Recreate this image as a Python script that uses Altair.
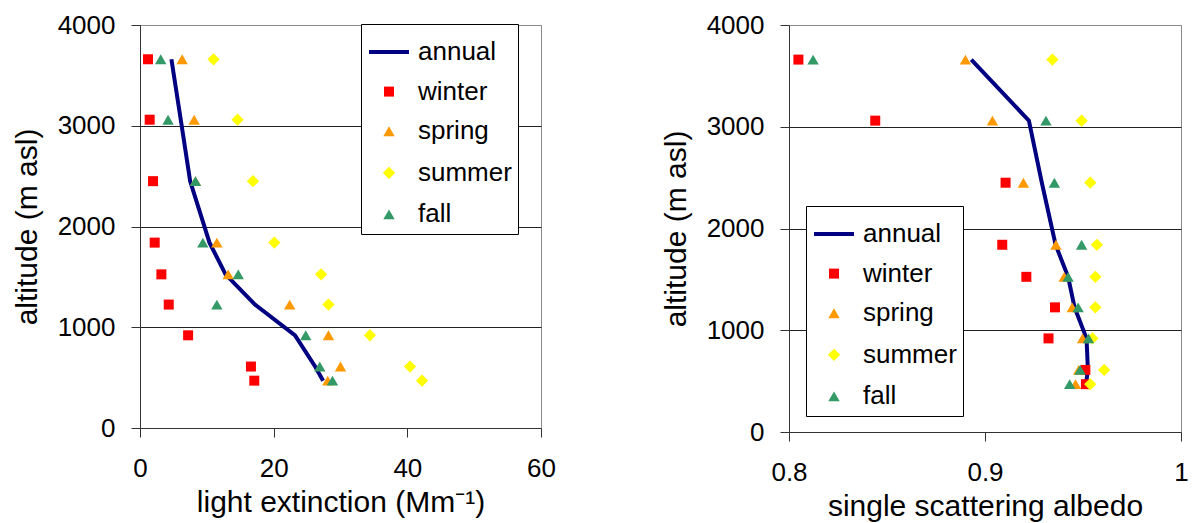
import altair as alt
import pandas as pd

FONT = "Liberation Sans"

altitude = [3660, 3060, 2450, 1840, 1525, 1225, 920, 610, 470]

series_order = ["annual", "winter", "spring", "summer", "fall"]
series_colors = ["#000080", "#FF0000", "#FF9900", "#FFFF00", "#339966"]
series_strokes = ["#000080", "transparent", "transparent", "transparent", "transparent"]
series_shapes = ["stroke", "square", "triangle-up", "diamond", "triangle-up"]
series_sizes = [1600, 100, 130, 150, 130]

# light extinction (Mm-1)
ext_annual = [4.7, 6.1, 7.5, 10.4, 12.8, 17.2, 23.2, 26.2, 27.4]
ext_winter = [1.2, 1.45, 1.95, 2.2, 3.2, 4.3, 7.2, 16.6, 17.1]
ext_spring = [6.3, 8.1, 8.3, 11.5, 13.2, 22.4, 28.2, 30.0, 28.1]
ext_summer = [11.0, 14.6, 16.9, 20.1, 27.1, 28.2, 34.4, 40.4, 42.2]
ext_fall = [3.1, 4.2, 8.3, 9.4, 14.7, 11.5, 24.8, 26.9, 28.8]

# single scattering albedo
ssa_annual = [0.893, 0.9224, 0.929, 0.936, 0.9424, 0.9457, 0.9518, 0.9525, 0.9515]
ssa_winter = [0.8048, 0.8440, 0.9105, 0.9088, 0.9211, 0.9357, 0.9324, 0.9512, 0.9515]
ssa_spring = [0.890, 0.9038, 0.9196, 0.9362, 0.9404, 0.9445, 0.9498, 0.9478, 0.9462]
ssa_summer = [0.9344, 0.9493, 0.9537, 0.9571, 0.9563, 0.9563, 0.9548, 0.9608, 0.9537]
ssa_fall = [0.8123, 0.9311, 0.9354, 0.9493, 0.9424, 0.9475, 0.9528, 0.9485, 0.9432]

LABEL_SIZE = 26
TITLE_SIZE = 30
LEGEND_SIZE = 26


def make_points(series_values):
    rows = []
    for name, vals in series_values:
        for a, v in zip(altitude, vals):
            rows.append({"series": name, "altitude": a, "value": v})
    return pd.DataFrame(rows)


def make_line(vals):
    return pd.DataFrame({"altitude": altitude, "value": vals})


def panel(line_df, pts_df, x_domain, x_values, x_title, label_expr, w, h, lx, ly):
    y_enc = alt.Y(
        "altitude:Q",
        scale=alt.Scale(domain=[0, 4000], nice=False, zero=False),
        axis=alt.Axis(
            values=[0, 1000, 2000, 3000, 4000],
            format="d",
            title="altitude (m asl)",
            grid=True,
            gridColor={"condition": {"test": "datum.value > 0 && datum.value < 4000",
                                     "value": "#222222"},
                       "value": "transparent"},
            labelFont=FONT, labelFontSize=LABEL_SIZE, labelColor="black", labelFlush=False,
            titleFont=FONT, titleFontSize=TITLE_SIZE, titleFontWeight="normal", titleColor="black",
            labelPadding=16, titlePadding=15,
        ),
    )
    x_enc = alt.X(
        "value:Q",
        scale=alt.Scale(domain=x_domain, nice=False, zero=False),
        axis=alt.Axis(
            values=x_values, title=x_title, grid=False, labelExpr=label_expr,
            labelFont=FONT, labelFontSize=LABEL_SIZE, labelColor="black",
            labelFlush=False, labelOverlap=False,
            titleFont=FONT, titleFontSize=TITLE_SIZE, titleFontWeight="normal", titleColor="black",
            labelPadding=18, titlePadding=6,
        ),
    )
    legend = alt.Legend(
        orient="none", legendX=lx, legendY=ly, title=None,
        labelFont=FONT, labelFontSize=LEGEND_SIZE, labelColor="black",
        strokeColor="black", fillColor="white", padding=6,
        symbolStrokeWidth=4, labelOffset=7, rowPadding=13.6,
    )
    line = alt.Chart(line_df).mark_line(color="#000080", strokeWidth=4).encode(
        x=x_enc, y=y_enc, order=alt.Order("altitude:Q")
    )
    pts = alt.Chart(pts_df).mark_point(filled=True, opacity=1).encode(
        x=x_enc,
        y=y_enc,
        fill=alt.Fill("series:N", scale=alt.Scale(domain=series_order, range=series_colors), legend=legend),
        stroke=alt.Stroke("series:N", scale=alt.Scale(domain=series_order, range=series_strokes), legend=legend),
        shape=alt.Shape("series:N", scale=alt.Scale(domain=series_order, range=series_shapes), legend=legend),
        size=alt.Size("series:N", scale=alt.Scale(type="ordinal", domain=series_order, range=series_sizes), legend=legend),
    )
    return alt.layer(line, pts).properties(width=w, height=h)


left = panel(
    make_line(ext_annual),
    make_points([("winter", ext_winter), ("spring", ext_spring), ("summer", ext_summer), ("fall", ext_fall)]),
    [0, 60], [0, 20, 40, 60], "light extinction (Mm⁻¹)", "datum.label",
    401, 403, 221, -1,
)
right = panel(
    make_line(ssa_annual),
    make_points([("winter", ssa_winter), ("spring", ssa_spring), ("summer", ssa_summer), ("fall", ssa_fall)]),
    [0.8, 1.0], [0.8, 0.9, 1.0], "single scattering albedo",
    "datum.value > 0.99 ? '1' : format(datum.value, '.1f')",
    392, 407, 17, 181,
)

chart = (
    alt.hconcat(left, right, spacing=104)
    .resolve_scale(fill="independent", stroke="independent", shape="independent", size="independent",
                   x="independent", y="independent")
    .resolve_legend(fill="independent", stroke="independent", shape="independent", size="independent")
    .properties(padding={"left": 3, "top": 3, "right": 0, "bottom": 0}, background="white")
    .configure(font=FONT)
    .configure_view(stroke="#8a8a8a", strokeWidth=1)
    .configure_axis(
        domainColor="#333333", tickColor="#333333", tickSize=9, domainWidth=1, tickWidth=1,
    )
    .configure_legend(symbolOpacity=1)
)

chart.save("out.html", embed_options={"renderer": "svg", "actions": False})
